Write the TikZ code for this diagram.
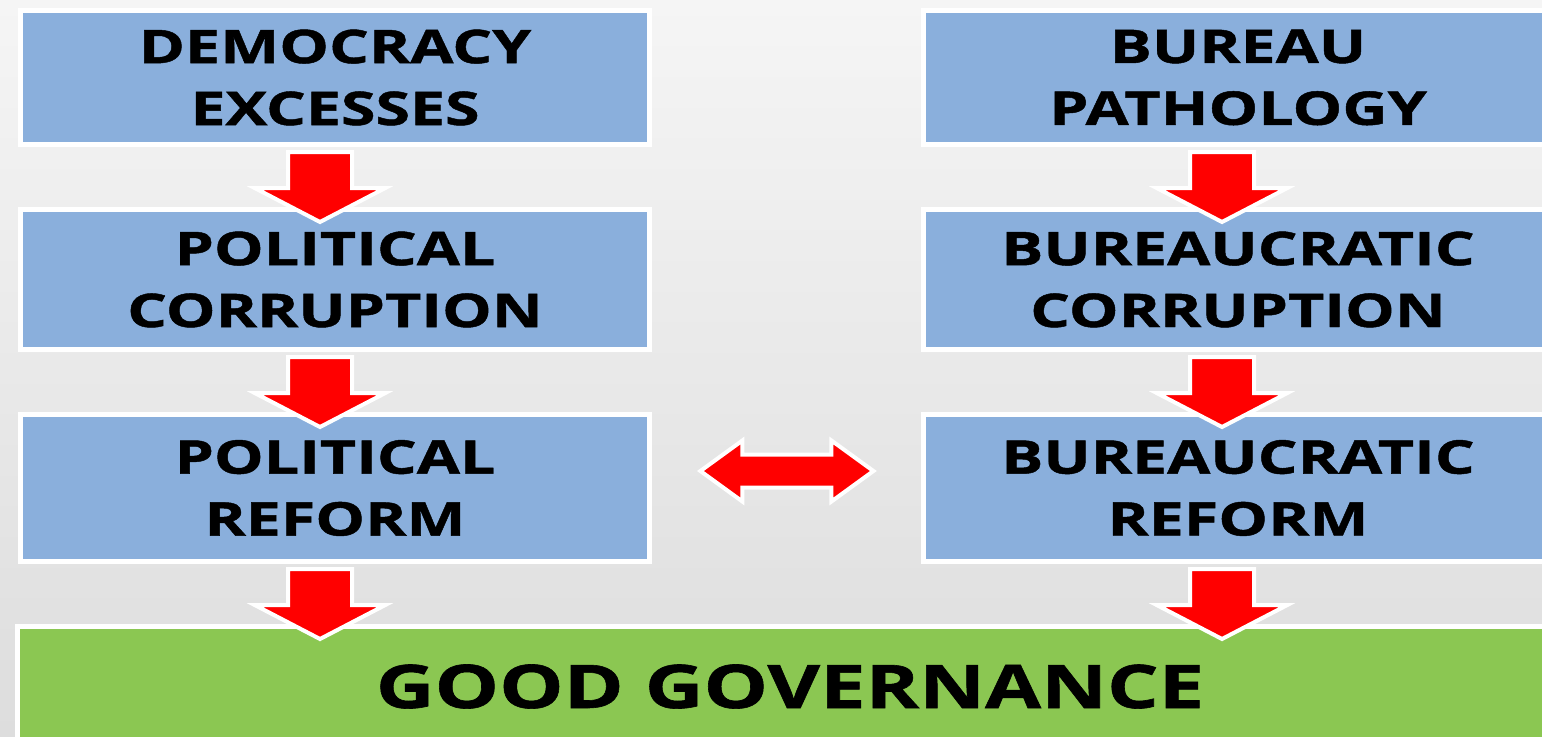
\documentclass[tikz,border=0pt]{standalone}
\usepackage{fontspec}
\setmainfont{Open Sans}
\newfontfamily\boxfont{Open Sans}[FakeStretch=1.35, FakeBold=1]
\usetikzlibrary{positioning,shapes.arrows}
\definecolor{boxblue}{RGB}{138,175,220}
\definecolor{boxgreen}{RGB}{139,199,82}
\definecolor{bglight}{RGB}{245,245,245}
\definecolor{bgdark}{RGB}{221,221,221}
\tikzstyle{block} = [rectangle, minimum width=6.29cm, minimum height=1.4cm, text centered, align=center, draw=white, line width=0.05cm, fill=boxblue, font=\boxfont\bfseries\fontsize{13.2}{17.6}\selectfont]
\tikzstyle{goal} = [block, fill=boxgreen, minimum width=15.46cm, minimum height=1.2cm, font=\boxfont\bfseries\fontsize{17.1}{20}\selectfont]
\tikzstyle{downarrow} = [single arrow, rotate=-90, fill=red, draw=white, line width=0.04cm, inner xsep=0cm, inner ysep=0.3cm, minimum height=0.7cm, single arrow head extend=0.33cm, single arrow tip angle=125]
\tikzstyle{twoway} = [double arrow, fill=red, draw=white, line width=0.04cm, inner xsep=0cm, inner ysep=0.145cm, minimum height=1.73cm, double arrow head extend=0.14cm, double arrow tip angle=72]

\begin{document}
\begin{tikzpicture}[node distance=0.6cm]
\useasboundingbox (0,0) rectangle (15.42,-7.36);
\clip (0,0) rectangle (15.42,-7.36);
\shade[top color=bglight, bottom color=bgdark] (0,0) rectangle (15.42,-7.36);

\node (democracy) [block, minimum height=1.34cm] at (3.35,-0.775) {DEMOCRACY\\EXCESSES};
\node (polcorrupt) [block, below=of democracy] {POLITICAL\\CORRUPTION};
\node (polreform) [block, below=of polcorrupt, minimum height=1.47cm] {POLITICAL\\REFORM};
\node (pathology) [block, right=2.69cm of democracy, minimum height=1.34cm] {BUREAU\\PATHOLOGY};
\node (burcorrupt) [block, below=of pathology] {BUREAUCRATIC\\CORRUPTION};
\node (burreform) [block, below=of burcorrupt, minimum height=1.47cm] {BUREAUCRATIC\\REFORM};
\node (goodgov) [goal, below=of polreform.south west, anchor=north west, xshift=-0.035cm] {GOOD GOVERNANCE};

\node (arrowa) [downarrow, below=0.03cm of democracy, anchor=tail, yshift=-0.15cm] {};
\node (arrowb) [downarrow, below=0.03cm of polcorrupt, anchor=tail, yshift=-0.15cm] {};
\node (arrowc) [downarrow, below=0.03cm of polreform, anchor=tail, yshift=-0.15cm] {};
\node (arrowd) [downarrow, below=0.03cm of pathology, anchor=tail, yshift=-0.16cm] {};
\node (arrowe) [downarrow, below=0.03cm of burcorrupt, anchor=tail, yshift=-0.16cm] {};
\node (arrowf) [downarrow, below=0.03cm of burreform, anchor=tail, yshift=-0.16cm] {};
\node (link) [twoway, right=0.45cm of polreform, yshift=0.17cm] {};
\end{tikzpicture}
\end{document}
